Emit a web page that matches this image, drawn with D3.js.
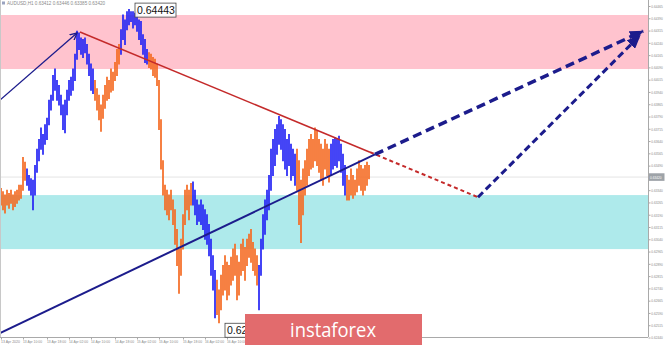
<!DOCTYPE html>
<html><head><meta charset="utf-8">
<script src="https://cdn.jsdelivr.net/npm/d3@7"></script>
<style>html,body{margin:0;padding:0;background:#fff;overflow:hidden}svg{display:block}</style>
</head><body>
<svg id="c" width="665" height="345"></svg>
<script>
// ---------- DATA ----------
const chartTitle = "AUDUSD,H1  0.63412 0.63446 0.63385 0.63420";
const barHigh = [
0.6335,0.6333,0.6331,0.6334,0.6332,0.6334,0.6331,0.6333,0.6334,0.6337,
0.6337,0.6354,0.6351,0.6347,0.6343,0.6341,0.6340,0.6349,0.6359,0.6365,
0.6372,0.6368,0.6374,0.6378,0.6389,0.6392,0.6404,0.6408,0.6401,0.6398,
0.6392,0.6386,0.6389,0.6395,0.6401,0.6403,0.6408,0.6417,0.6431,0.6430,
0.6427,0.6426,0.6427,0.6423,0.6417,0.6411,0.6408,0.6401,0.6396,0.6392,
0.6386,0.6392,0.6398,0.6403,0.6401,0.6408,0.6406,0.6412,0.6420,0.6423,
0.6432,0.6441,0.6438,0.6443,0.64443,0.6443,0.6443,0.6442,0.6443,0.6438,
0.6437,0.6429,0.6426,0.6420,0.6418,0.6417,0.6415,0.6414,0.6411,0.6401,
0.6377,0.6352,0.6337,0.6334,0.6331,0.6334,0.6328,0.6322,0.6310,0.6298,
0.6304,0.6319,0.6334,0.6337,0.6334,0.6338,0.6339,0.6334,0.6328,0.6325,
0.6328,0.6325,0.6322,0.6319,0.6313,0.6304,0.6294,0.6285,0.6279,0.6273,
0.6282,0.6288,0.6294,0.6290,0.6288,0.6293,0.6298,0.6301,0.6294,0.6290,
0.6301,0.6304,0.6299,0.6304,0.6307,0.6310,0.6302,0.6298,0.6294,0.6288,
0.6304,0.6319,0.6328,0.6334,0.6343,0.6359,0.6365,0.6371,0.6374,0.6379,
0.6377,0.6374,0.6371,0.6365,0.6368,0.6362,0.6359,0.6356,0.6359,0.6352,
0.6340,0.6347,0.6352,0.6359,0.6365,0.6368,0.6365,0.6372,0.6370,0.6365,
0.6362,0.6359,0.6365,0.6362,0.6359,0.6362,0.6365,0.6366,0.6365,0.6367,
0.6362,0.6356,0.6349,0.6343,0.6340,0.6347,0.6343,0.6340,0.6347,0.6352,
0.6349,0.6347,0.6349,0.6351,0.6349];
const barLow = [
0.6325,0.6322,0.6320,0.6325,0.6323,0.6326,0.6322,0.6324,0.6326,0.6328,
0.6329,0.6334,0.6340,0.6337,0.6334,0.6331,0.6322,0.6331,0.6345,0.6352,
0.6359,0.6356,0.6362,0.6365,0.6374,0.6383,0.6389,0.6395,0.6389,0.6386,
0.6380,0.6371,0.6369,0.6380,0.6389,0.6392,0.6395,0.6401,0.6414,0.6420,
0.6417,0.6415,0.6418,0.6411,0.6404,0.6395,0.6393,0.6389,0.6383,0.6377,
0.6370,0.6378,0.6384,0.6389,0.6390,0.6394,0.6395,0.6401,0.6404,0.6411,
0.6417,0.6426,0.6423,0.6432,0.6435,0.6437,0.6433,0.6435,0.6431,0.6426,
0.6423,0.6417,0.6412,0.6411,0.6409,0.6408,0.6404,0.6403,0.6398,0.6371,
0.6347,0.6331,0.6322,0.6319,0.6316,0.6322,0.6313,0.6301,0.6288,0.6271,
0.6282,0.6298,0.6313,0.6322,0.6316,0.6325,0.6325,0.6319,0.6313,0.6315,
0.6313,0.6310,0.6304,0.6301,0.6294,0.6282,0.6273,0.6256,0.6258,0.6253,
0.6261,0.6270,0.6273,0.6267,0.6270,0.6276,0.6279,0.6282,0.6267,0.6270,
0.6282,0.6285,0.6279,0.6288,0.6293,0.6290,0.6285,0.6282,0.6276,0.6261,
0.6282,0.6298,0.6307,0.6316,0.6322,0.6334,0.6343,0.6349,0.6356,0.6362,
0.6359,0.6352,0.6347,0.6343,0.6349,0.6340,0.6343,0.6337,0.6334,0.6313,
0.6302,0.6319,0.6331,0.6337,0.6343,0.6347,0.6348,0.6352,0.6349,0.6345,
0.6340,0.6337,0.6347,0.6343,0.6339,0.6343,0.6347,0.6349,0.6348,0.6352,
0.6345,0.6337,0.6331,0.6328,0.6328,0.6331,0.6329,0.6331,0.6333,0.6337,
0.6334,0.6331,0.6334,0.6337,0.6341];
// wave segments (first bar of each wave and its direction)
const waveStart = [0, 13, 47, 60, 74, 96, 108, 129, 148, 165, 173];
const waveDir   = ["down","up","down","up","down","up","down","up","down","up","down"];
// zones [low, high]
const resistanceZone = [0.6408, 0.6441];
const supportZone    = [0.6298, 0.6331];
const currentPrice = 0.63420;
// markup lines: [barIndex, price]
const impulseLine   = [[-0.5, 0.6389], [38, 0.6430]];
const resistLine    = [[39.5, 0.64306], [184.5, 0.63572]];
const resistDashed  = [[184.5, 0.63572], [238.5, 0.63297]];
const supportLine   = [[-0.5, 0.62467], [187, 0.63559]];
const forecastMain  = [[187, 0.63559], [321, 0.64311]];
const forecastAlt   = [[238.5, 0.63297], [319.5, 0.64285]];
// axes
const priceTicks = [0.64465,0.64390,0.64315,0.64240,0.64165,0.64090,0.64015,0.63940,0.63865,0.63790,
  0.63715,0.63640,0.63565,0.63490,0.63415,0.63340,0.63265,0.63190,0.63115,0.63040,
  0.62965,0.62890,0.62815,0.62740,0.62665,0.62590,0.62515,0.62440];
const timeTickBars = [0, 11, 23, 34, 45, 57, 68, 79, 91, 102, 113, 125, 136, 147, 159, 170, 181];
const timeTickLabels = ["13 Apr 2020","13 Apr 10:00","13 Apr 18:00","14 Apr 02:00","14 Apr 10:00","14 Apr 18:00",
  "15 Apr 02:00","15 Apr 10:00","15 Apr 18:00","16 Apr 02:00","16 Apr 10:00","16 Apr 18:00",
  "17 Apr 02:00","17 Apr 10:00","17 Apr 18:00","20 Apr 02:00","20 Apr 10:00"];
const brandText = "instaforex";

// ---------- DRAW ----------
const plotR = 648, plotB = 337;
const svg = d3.select("#c");
const x = d3.scaleLinear().domain([-0.5, 323.5]).range([0, plotR]);
const y = d3.scaleLinear().domain([0.64465, 0.62440]).range([6, 337.5]);

const defs = svg.append("defs");
defs.append("clipPath").attr("id","plot").append("rect").attr("x",0).attr("y",0).attr("width",plotR).attr("height",plotB);
defs.append("marker").attr("id","arrBig").attr("markerUnits","userSpaceOnUse")
  .attr("viewBox","0 0 14 12").attr("refX",13).attr("refY",6).attr("markerWidth",14).attr("markerHeight",12)
  .attr("orient","auto").append("path").attr("d","M0,0 L14,6 L0,12 Z").attr("fill","#1c1c8c");
defs.append("marker").attr("id","arrSmall").attr("markerUnits","userSpaceOnUse")
  .attr("viewBox","0 0 8 8").attr("refX",7).attr("refY",4).attr("markerWidth",8).attr("markerHeight",8)
  .attr("orient","auto").append("path").attr("d","M0,0.5 L7,4 L0,7.5").attr("fill","none").attr("stroke","#1c1c8c").attr("stroke-width",1.3);

const g = svg.append("g").attr("clip-path","url(#plot)");
// zones
g.append("rect").attr("x",0).attr("width",plotR)
  .attr("y",y(resistanceZone[1])).attr("height",y(resistanceZone[0])-y(resistanceZone[1])).attr("fill","#ffc3ce");
g.append("rect").attr("x",0).attr("width",plotR)
  .attr("y",y(supportZone[1])).attr("height",y(supportZone[0])-y(supportZone[1])).attr("fill","#aeeaeb");
// current price line
g.append("line").attr("x1",0).attr("x2",plotR).attr("y1",y(currentPrice)).attr("y2",y(currentPrice))
  .attr("stroke","#dcdcdc").attr("stroke-width",0.8);

// bars
const colorOf = i => waveDir[d3.bisectRight(waveStart, i) - 1] === "up" ? "#2424f5" : "#f56a22";
g.append("g").selectAll("line").data(barHigh).join("line")
  .attr("x1",(d,i)=>x(i)).attr("x2",(d,i)=>x(i))
  .attr("y1",d=>y(d)-0.5).attr("y2",(d,i)=>y(barLow[i])+0.5)
  .attr("stroke",(d,i)=>colorOf(i)).attr("stroke-width",1.7);

// markup lines
const ln = d3.line().x(d=>x(d[0])).y(d=>y(d[1]));
g.append("path").attr("d",ln(impulseLine)).attr("stroke","#1c1c8c").attr("stroke-width",1.3).attr("fill","none").attr("marker-end","url(#arrSmall)");
g.append("path").attr("d",ln(resistLine)).attr("stroke","#c42a2a").attr("stroke-width",1.5).attr("fill","none");
g.append("path").attr("d",ln(resistDashed)).attr("stroke","#c42a2a").attr("stroke-width",2).attr("stroke-dasharray","4,3").attr("fill","none");
g.append("path").attr("d",ln(supportLine)).attr("stroke","#1c1c8c").attr("stroke-width",2).attr("fill","none");
svg.append("path").attr("d",ln(forecastAlt)).attr("stroke","#1c1c8c").attr("stroke-width",3).attr("stroke-dasharray","7,4").attr("fill","none").attr("marker-end","url(#arrBig)");
svg.append("path").attr("d",ln(forecastMain)).attr("stroke","#1c1c8c").attr("stroke-width",3.5).attr("stroke-dasharray","9,5").attr("fill","none").attr("marker-end","url(#arrBig)");

// frame
svg.append("line").attr("x1",0.5).attr("x2",0.5).attr("y1",0).attr("y2",plotB).attr("stroke","#c8c8c8");
// right axis
const yAxis = d3.axisRight(y).tickValues(priceTicks.filter(v=>Math.abs(v-currentPrice)>0.0003))
  .tickFormat(d3.format(".5f")).tickSize(2).tickPadding(0.8);
const ya = svg.append("g").attr("transform",`translate(${plotR+0.5},0)`).call(yAxis);
ya.select(".domain").attr("stroke","#a9a9a9").attr("d",`M0,0V${plotB}`);
ya.selectAll(".tick line").attr("stroke","#a9a9a9");
ya.selectAll("text").attr("fill","#8a8a8a").attr("textLength",11.5).attr("lengthAdjust","spacingAndGlyphs")
  .style("font","4px 'Liberation Sans', Arial, sans-serif");
// price tag
svg.append("rect").attr("x",plotR+1).attr("y",y(currentPrice)-3.8).attr("width",15.5).attr("height",7.6).attr("fill","#9ea3a8");
svg.append("text").attr("x",plotR+2).attr("y",y(currentPrice)+1.5).text(d3.format(".5f")(currentPrice))
  .attr("fill","#fff").attr("textLength",11.5).attr("lengthAdjust","spacingAndGlyphs")
  .style("font","4px 'Liberation Sans', Arial, sans-serif");

// bottom axis
const xAxis = d3.axisBottom(x).tickValues(timeTickBars).tickFormat((d,i)=>timeTickLabels[i]).tickSize(2).tickPadding(1);
const xa = svg.append("g").attr("transform",`translate(0,${plotB+0.5})`).call(xAxis);
xa.select(".domain").attr("stroke","#a9a9a9").attr("d",`M0,0H${plotR}`);
xa.selectAll(".tick line").attr("stroke","#a9a9a9");
xa.selectAll("text").attr("fill","#8a8a8a").attr("text-anchor","start").attr("dx",-0.5)
  .attr("textLength",19).attr("lengthAdjust","spacingAndGlyphs")
  .style("font","4.2px 'Liberation Sans', Arial, sans-serif");

// title
svg.append("rect").attr("x",2).attr("y",1.5).attr("width",3).attr("height",3).attr("fill","#9aa3c0");
svg.append("text").attr("x",7).attr("y",5).text(chartTitle).attr("fill","#8a8a8a")
  .style("font","4.6px 'Liberation Sans', Arial, sans-serif");

// extreme labels
function priceLabel(idx, val, dy){
  const px = x(idx)+6, py = dy;
  svg.append("rect").attr("x",px).attr("y",py).attr("width",41).attr("height",14)
    .attr("fill","#fff").attr("fill-opacity",0.9).attr("stroke","#444").attr("stroke-width",0.8);
  svg.append("text").attr("x",px+2).attr("y",py+11).text(d3.format(".5f")(val))
    .attr("fill","#111").style("font","10.5px 'Liberation Sans', Arial, sans-serif");
}
const hiIdx = d3.maxIndex(barHigh), loIdx = d3.minIndex(barLow);
priceLabel(hiIdx, barHigh[hiIdx], y(barHigh[hiIdx])-6.5);
priceLabel(loIdx, barLow[loIdx], y(barLow[loIdx])+0.5);

// brand
svg.append("rect").attr("x",245).attr("y",314).attr("width",177).attr("height",31).attr("fill","#e26b6d");
svg.append("text").attr("x",290).attr("y",337).text(brandText).attr("fill","#fff")
  .attr("textLength",86).attr("lengthAdjust","spacingAndGlyphs")
  .style("font","20px 'Open Sans', sans-serif");
</script>
</body></html>
